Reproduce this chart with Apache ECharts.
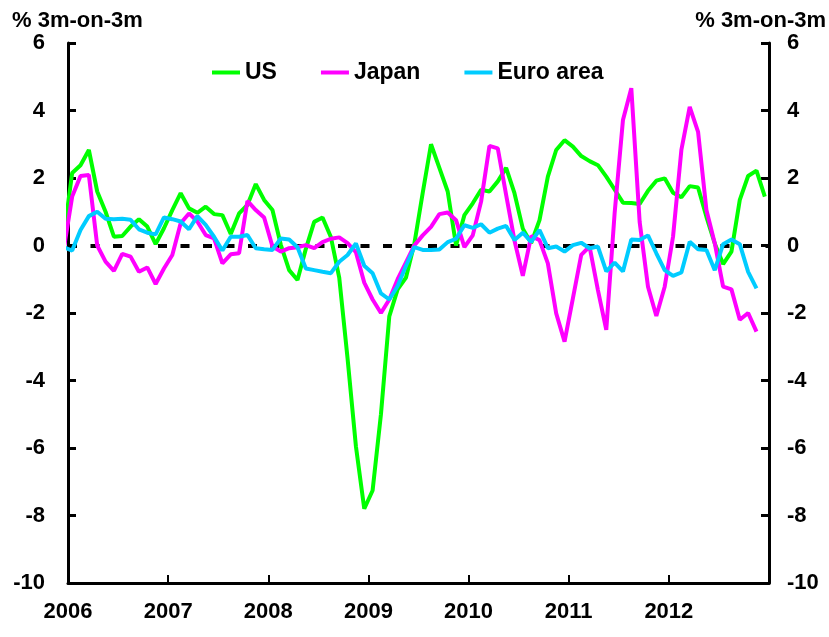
<!DOCTYPE html>
<html lang="en">
<head>
    <meta charset="UTF-8">
    <title>3m-on-3m</title>
    <script src="https://cdn.jsdelivr.net/npm/echarts@6/dist/echarts.min.js"></script>
</head>
<body style="margin:0;background:#fff;">
<div id="main" style="width:829px;height:637px;"></div>
<script>
    // year labels on the x axis
    var years = ['2006', '2007', '2008', '2009', '2010', '2011', '2012'];
    var yTicks = [-10, -8, -6, -4, -2, 0, 2, 4, 6];

    // monthly values, % 3m-on-3m; first value is Dec 2005
    var usData = [0.3,
        2.15, 2.38, 2.83, 1.6, 1.0, 0.26, 0.28, 0.56, 0.78, 0.56, 0.04, 0.51,
        1.05, 1.55, 1.10, 0.97, 1.15, 0.93, 0.90, 0.34, 0.95, 1.2, 1.82, 1.35,
        1.05, 0.02, -0.73, -1.02, -0.1, 0.7, 0.83, 0.25, -0.95, -3.35, -5.95, -7.8,
        -7.26, -5.0, -2.1, -1.3, -0.95, 0.05, 1.55, 3.0, 2.3, 1.6, 0.0, 0.9,
        1.25, 1.65, 1.6, 1.9, 2.3, 1.55, 0.5, 0.07, 0.75, 2.04, 2.83, 3.12,
        2.93, 2.65, 2.5, 2.38, 2.04, 1.66, 1.27, 1.26, 1.23, 1.62, 1.92, 1.99,
        1.56, 1.43, 1.76, 1.72, 0.85, 0.06, -0.55, -0.18, 1.35, 2.06, 2.22, 1.45];
    var japanData = [-0.1,
        1.45, 2.06, 2.09, 0.0, -0.48, -0.75, -0.25, -0.33, -0.78, -0.65, -1.14, -0.68,
        -0.28, 0.66, 0.95, 0.71, 0.31, 0.21, -0.53, -0.26, -0.23, 1.32, 1.05, 0.83,
        -0.03, -0.18, -0.08, -0.05, 0.01, -0.08, 0.1, 0.2, 0.24, 0.07, -0.2, -1.1,
        -1.6, -2.0, -1.6, -1.0, -0.5, 0.0, 0.3, 0.55, 0.93, 0.98, 0.75, -0.05,
        0.3, 1.3, 2.95, 2.88, 1.5, 0.15, -0.9, 0.28, 0.16, -0.53, -2.01, -2.85,
        -1.57, -0.28, -0.03, -1.32, -2.5, 0.95, 3.72, 4.66, 0.7, -1.22, -2.09, -1.22,
        0.26, 2.83, 4.11, 3.37, 1.05, 0.07, -1.22, -1.3, -2.2, -2.0, -2.55];
    var euroData = [-0.05,
        -0.15, 0.46, 0.87, 1.0, 0.79, 0.78, 0.79, 0.76, 0.48, 0.38, 0.33, 0.83,
        0.78, 0.71, 0.48, 0.87, 0.61, 0.26, -0.15, 0.26, 0.26, 0.31, -0.08, -0.11,
        -0.13, 0.21, 0.18, -0.05, -0.68, -0.73, -0.78, -0.82, -0.48, -0.28, 0.06, -0.6,
        -0.82, -1.42, -1.6, -1.2, -0.6, -0.05, -0.13, -0.13, -0.12, 0.1, 0.2, 0.6,
        0.52, 0.63, 0.38, 0.5, 0.58, 0.16, 0.38, 0.11, 0.46, -0.08, -0.03, -0.18,
        0.01, 0.08, -0.08, -0.03, -0.77, -0.51, -0.77, 0.18, 0.16, 0.3, -0.23, -0.73,
        -0.9, -0.8, 0.11, -0.11, -0.13, -0.73, 0.04, 0.18, 0.04, -0.78, -1.27];

    var seriesNames = ['US', 'Japan', 'Euro area'];
    var seriesColors = ['#00ff00', '#ff00ff', '#00ccff'];

    // x is months since Jan 2006, points sit mid-month
    function toPoints(arr) {
        return arr.map(function (v, k) { return [k - 1 + 0.5, v]; });
    }

    var font = '"Liberation Sans", Arial, sans-serif';
    var labelStyle = { color: '#000', fontWeight: 'bold', fontSize: 22, fontFamily: font };

    function yAxisCfg(pos) {
        return {
            type: 'value',
            position: pos,
            min: -10,
            max: 6,
            interval: 2,
            axisLine: { show: true, lineStyle: { color: '#000', width: 3 } },
            axisTick: { show: true, inside: true, length: 8, lineStyle: { color: '#000', width: 3 } },
            axisLabel: Object.assign({ margin: pos === 'left' ? 23 : 18 }, labelStyle),
            splitLine: { show: false }
        };
    }

    var myChart = echarts.init(document.getElementById('main'));
    var option = {
        animation: false,
        backgroundColor: '#fff',
        color: seriesColors,
        grid: { left: 68, right: 60, top: 43, bottom: 54 },
        legend: {
            left: 207,
            top: 56,
            icon: 'rect',
            itemWidth: 28,
            itemHeight: 4,
            itemGap: 44,
            data: seriesNames,
            textStyle: { color: '#000', fontWeight: 'bold', fontSize: 23, fontFamily: font }
        },
        graphic: [
            { type: 'text', left: 12, top: 10, style: { text: '% 3m-on-3m', fill: '#000', font: 'bold 22px ' + font } },
            { type: 'text', right: 3, top: 10, style: { text: '% 3m-on-3m', fill: '#000', font: 'bold 22px ' + font } }
        ],
        xAxis: {
            type: 'value',
            min: 0,
            max: 84,
            interval: 12,
            axisLine: { onZero: false, lineStyle: { color: '#000', width: 3 } },
            axisTick: { show: true, inside: true, length: 8, lineStyle: { color: '#000', width: 2 } },
            axisLabel: Object.assign({
                margin: 18,
                formatter: function (v) { return v < 84 ? years[v / 12] : ''; }
            }, labelStyle),
            splitLine: { show: false }
        },
        yAxis: [yAxisCfg('left'), yAxisCfg('right')],
        series: [
            {
                name: seriesNames[0], type: 'line', showSymbol: false, symbol: 'none',
                lineStyle: { width: 4 }, data: toPoints(usData), z: 3,
                markLine: {
                    silent: true,
                    symbol: ['none', 'none'],
                    label: { show: false },
                    lineStyle: { color: '#000', width: 4, type: [9, 13.5] },
                    data: [{ yAxis: 0 }],
                    z: 1
                }
            },
            {
                name: seriesNames[1], type: 'line', showSymbol: false, symbol: 'none',
                lineStyle: { width: 4 }, data: toPoints(japanData), z: 4
            },
            {
                name: seriesNames[2], type: 'line', showSymbol: false, symbol: 'none',
                lineStyle: { width: 4 }, data: toPoints(euroData), z: 5
            }
        ]
    };
    myChart.setOption(option);
</script>
</body>
</html>
